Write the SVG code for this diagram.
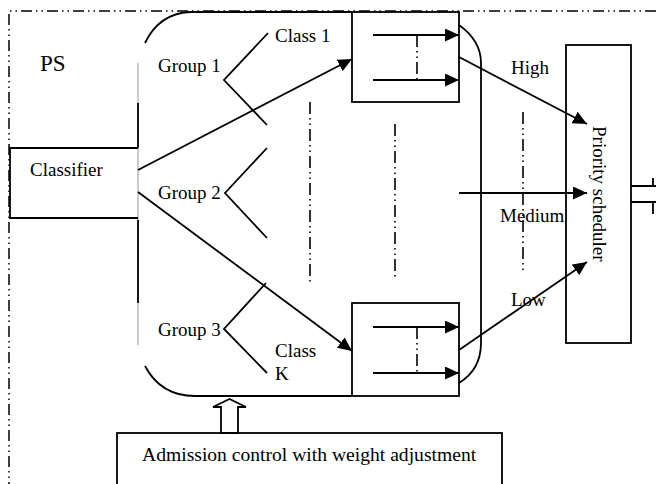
<svg xmlns="http://www.w3.org/2000/svg" width="656" height="484" viewBox="0 0 656 484">
<defs>
<marker id="ah" markerUnits="userSpaceOnUse" markerWidth="15" markerHeight="14" refX="14" refY="6.5" orient="auto">
<path d="M0,0 L14,6.5 L0,13 z" fill="#000"/>
</marker>
<style>
.ln{stroke:#000;stroke-width:1.8;fill:none}
.thin{stroke:#999;stroke-width:1;fill:none}
.dd{stroke:#000;stroke-width:1.6;fill:none;stroke-dasharray:12 4 1.5 4 1.5 4}
.dd1{stroke:#000;stroke-width:1.5;fill:none;stroke-dasharray:11 4 1.5 4 1.5 4}
.t{font-family:"Liberation Serif","Times New Roman",serif;font-size:19px;fill:#000}
.arr{stroke:#000;stroke-width:1.8;fill:none;marker-end:url(#ah)}
</style>
</defs>
<rect width="656" height="484" fill="#fff"/>
<g id="frame">
<path class="dd1" d="M656,11 H9 V484"/>
<text class="t" x="40" y="71" style="font-size:23px">PS</text>
</g>
<g id="region">
<path class="ln" d="M145,43 C155,22 170,13 190,12 H352"/>
<path class="ln" d="M459,25 C473,35 481,48 481,63 V343 C481,362 472,375 459,383"/>
<path class="ln" d="M145,366 C155,385 170,396 195,396 H352"/>
<path class="thin" d="M138,63 V103 M138,148 V220 M138,303 V345"/>
<path class="ln" d="M138,103 V148 M138,220 V303"/>
</g>
<g id="classifier">
<path class="ln" d="M138,148 H10 V218 H138"/>
<text class="t" x="30" y="176">Classifier</text>
</g>
<g id="groups">
<path class="ln" d="M268,33 L224,80 L267,125"/>
<path class="ln" d="M267,148 L225,193 L267,238"/>
<path class="ln" d="M266,283 L224,329 L267,373"/>
<text class="t" x="158" y="72">Group 1</text>
<text class="t" x="158" y="199">Group 2</text>
<text class="t" x="158" y="336">Group 3</text>
<text class="t" x="275" y="42">Class 1</text>
<text class="t" x="275" y="357">Class</text>
<text class="t" x="275" y="380">K</text>
</g>
<g id="queue1">
<rect class="ln" x="352" y="12" width="107" height="90"/>
<path class="arr" d="M373,35 H459"/>
<path class="arr" d="M373,80 H459"/>
<path class="dd" d="M417,35 V80"/>
</g>
<g id="queue2">
<rect class="ln" x="352" y="303" width="107" height="93"/>
<path class="arr" d="M373,327 H459"/>
<path class="arr" d="M373,373 H459"/>
<path class="dd" d="M417,327 V373"/>
</g>
<g id="scheduler">
<rect class="ln" x="566" y="45" width="65" height="298"/>
<text class="t" transform="translate(593,126) rotate(90)">Priority scheduler</text>
<path class="ln" d="M631,186 H653 V178 M653,186 H656"/>
<path class="ln" d="M631,202 H653 V214 M653,202 H656"/>
</g>
<g id="admission">
<rect class="ln" x="117" y="433" width="385" height="60"/>
<text class="t" x="142" y="461" style="font-size:19.6px">Admission control with weight adjustment</text>
<polygon class="ln" points="221,433 221,407 213,407 229.5,399 246,407 238,407 238,433"/>
</g>
<g id="connectors">
<path class="arr" d="M138,170 L352,59"/>
<path class="arr" d="M138,192 L352,351"/>
<path class="arr" d="M459,57 L587,124"/>
<path class="arr" d="M459,193 L587,193"/>
<path class="arr" d="M459,350 L587,262"/>
<path class="dd" d="M310,102 V283"/>
<path class="dd" d="M395,124 V278"/>
<path class="dd" d="M523,112 V273"/>
<text class="t" x="511" y="74">High</text>
<text class="t" x="500" y="222">Medium</text>
<text class="t" x="511" y="306">Low</text>
</g>
</svg>
